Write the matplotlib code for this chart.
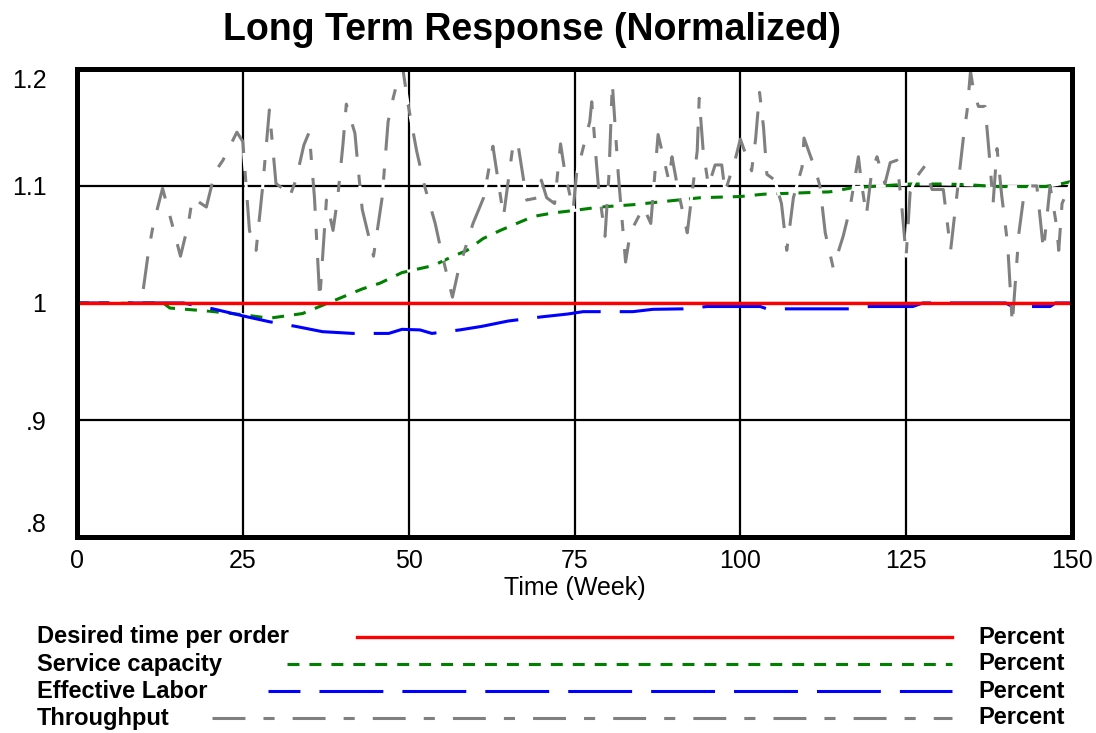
import matplotlib
matplotlib.use("Agg")
import matplotlib.pyplot as plt
from matplotlib.lines import Line2D

plt.rcParams['font.family'] = ['Liberation Sans', 'DejaVu Sans']
plt.rcParams['lines.scale_dashes'] = False

# ---- data -------------------------------------------------------------
desired_t = [0, 150]
desired_v = [1.0, 1.0]

capacity_t = [0, 13, 14, 20, 25, 29, 34, 37, 40, 43, 45.7, 49, 53.7, 56.7, 58.8,
              61.2, 63.8, 66.3, 68.8, 71.8, 74.8, 78.8, 83.8, 88.9, 94, 100,
              103.5, 108.5, 113.5, 117, 121, 125.6, 131, 134.6, 138.7, 146,
              148.7, 150]
capacity_v = [1.0, 1.0, 0.9957, 0.993, 0.990, 0.987, 0.991, 0.998, 1.005, 1.012,
              1.017, 1.026, 1.032, 1.040, 1.045, 1.055, 1.062, 1.068, 1.074,
              1.077, 1.079, 1.082, 1.084, 1.087, 1.090, 1.091, 1.093, 1.094,
              1.095, 1.0986, 1.100, 1.1017, 1.1017, 1.101, 1.0995, 1.0995,
              1.1023, 1.104]

labor_t = [0, 16, 20.5, 25, 29, 33, 37, 41.6, 47, 49, 51.7, 53.5, 57.7, 61, 65,
           69.8, 74, 76.3, 83.8, 86.8, 91.4, 95, 103, 104, 116.5, 119.5, 126,
           127.5, 140, 141, 146.7, 147.5, 150]
labor_v = [1.0, 1.0, 0.995, 0.989, 0.984, 0.980, 0.9755, 0.974, 0.974, 0.9775,
           0.977, 0.974, 0.977, 0.980, 0.9846, 0.988, 0.9906, 0.9926, 0.9926,
           0.9946, 0.995, 0.997, 0.997, 0.995, 0.995, 0.997, 0.997, 1.0, 1.0,
           0.997, 0.997, 1.0, 1.0]

throughput_t = [10.0, 10.8, 11.5, 12.9, 14.4, 15.6, 16.8, 17.4, 19.5, 20.8, 22.0,
                24.1, 25.0, 26.0, 27.0, 28.0, 29.0, 30.0, 31.0, 32.0, 33.0, 34.2,
                35.0, 35.8, 36.6, 37.6, 38.6, 39.3, 40.1, 40.6, 41.9, 42.3, 43.0,
                44.7, 46.0, 46.9, 47.7, 49.0, 49.9, 51.2, 52.4, 54.0, 55.0, 56.6,
                57.5, 59.7, 61.3, 62.7, 64.3, 65.8, 66.5, 67.8, 69.5, 70.0, 70.8,
                72.0, 72.9, 73.6, 74.8, 75.3, 77.3, 77.6, 78.3, 78.6, 79.6, 80.2,
                80.7, 81.6, 82.7, 83.4, 85.4, 86.5, 87.6, 88.6, 89.2, 89.7, 90.7,
                92.0, 93.5, 93.8, 94.4, 95.2, 96.2, 97.2, 97.7, 99.2, 100.0,
                101.7, 102.3, 102.9, 103.5, 104.0, 105.2, 106.2, 107.0, 108.0,
                109.3, 109.6, 111.3, 112.0, 112.8, 114.0, 115.5, 116.5, 117.8,
                118.2, 119.0, 119.8, 120.6, 121.8, 122.6, 123.6, 124.3, 125.0,
                125.6, 126.6, 127.8, 128.9, 130.6, 131.7, 132.7, 133.6, 134.2,
                134.7, 135.2, 135.9, 136.9, 137.6, 138.1, 138.7, 139.4, 140.3,
                141.0, 142.0, 142.7, 143.7, 144.7, 145.7, 146.7, 147.7, 148.0,
                148.5, 150.0]
throughput_v = [1.012, 1.045, 1.067, 1.098, 1.066, 1.040, 1.068, 1.090, 1.082,
                1.112, 1.122, 1.146, 1.138, 1.062, 1.045, 1.100, 1.165, 1.102,
                1.098, 1.090, 1.105, 1.135, 1.146, 1.090, 1.003, 1.088, 1.062,
                1.090, 1.136, 1.170, 1.145, 1.120, 1.080, 1.040, 1.090, 1.155,
                1.176, 1.205, 1.170, 1.130, 1.100, 1.068, 1.042, 1.005, 1.028,
                1.068, 1.090, 1.134, 1.074, 1.138, 1.135, 1.088, 1.090, 1.105,
                1.090, 1.085, 1.136, 1.110, 1.080, 1.110, 1.155, 1.172, 1.120,
                1.100, 1.057, 1.110, 1.188, 1.110, 1.035, 1.060, 1.082, 1.068,
                1.144, 1.120, 1.105, 1.125, 1.094, 1.060, 1.130, 1.175, 1.130,
                1.100, 1.118, 1.118, 1.095, 1.122, 1.140, 1.113, 1.140, 1.180,
                1.150, 1.110, 1.105, 1.085, 1.045, 1.090, 1.116, 1.141, 1.114,
                1.100, 1.060, 1.030, 1.057, 1.080, 1.125, 1.105, 1.075, 1.112,
                1.125, 1.102, 1.120, 1.122, 1.085, 1.040, 1.095, 1.108, 1.117,
                1.097, 1.097, 1.045, 1.095, 1.140, 1.165, 1.198, 1.180, 1.168,
                1.168, 1.122, 1.085, 1.132, 1.092, 1.050, 0.982, 1.060, 1.090,
                1.100, 1.100, 1.045, 1.100, 1.065, 1.045, 1.085, 1.105]

x_ticks = [0, 25, 50, 75, 100, 125, 150]
y_ticks = [0.8, 0.9, 1.0, 1.1, 1.2]
y_tick_labels = ['.8', '.9', '1', '1.1', '1.2']

legend_names = ['Desired time per order', 'Service capacity', 'Effective Labor', 'Throughput']
legend_units = ['Percent', 'Percent', 'Percent', 'Percent']

# ---- styles -----------------------------------------------------------
RED = '#ff0000'
GREEN = '#008000'
BLUE = '#0000ff'
GRAY = '#808080'
styles = [
    dict(color=RED, lw=2.4, linestyle='-'),
    dict(color=GREEN, lw=2.2, linestyle=(0, (8.6, 7.2)), gapcolor='white'),
    dict(color=BLUE, lw=2.2, linestyle=(23, (46, 13.7)), gapcolor='white'),
    dict(color=GRAY, lw=2.2, linestyle=(0, (23.7, 13, 8, 13)), gapcolor='white'),
]

W, H = 1096, 733
fig = plt.figure(figsize=(W / 100, H / 100), dpi=100)


def fx(px):
    return px / W


def fy(py):
    return 1 - py / H


ax = fig.add_axes([fx(77), fy(537), fx(1072) - fx(77), fy(69) - fy(537)])
ax.set_xlim(0, 150)
ax.set_ylim(0.8, 1.2)

ax.plot(capacity_t, capacity_v, zorder=3, **styles[1])
ax.plot(labor_t, labor_v, zorder=4, **styles[2])
ax.plot(throughput_t, throughput_v, zorder=5, **styles[3])
ax.plot(desired_t, desired_v, zorder=6, **styles[0])

# grid
for gx in x_ticks[1:-1]:
    ax.axvline(gx, color='black', lw=1.6, zorder=1)
for gy in y_ticks[1:-1]:
    ax.axhline(gy, color='black', lw=1.6, zorder=1)

for s in ax.spines.values():
    s.set_linewidth(3.6)
    s.set_color('black')
    s.set_zorder(7)

ax.set_xticks(x_ticks)
ax.set_xticklabels([str(t) for t in x_ticks], fontsize=18)
ax.set_yticks(y_ticks)
ax.set_yticklabels(y_tick_labels, fontsize=18)
ax.tick_params(axis='both', length=0)
ax.tick_params(axis='x', pad=9)
ax.tick_params(axis='y', pad=22)
ylabels = ax.get_yticklabels()
ylabels[0].set_va('bottom')
ylabels[-1].set_va('top')

ax.set_xlabel('Time (Week)', fontsize=18, labelpad=2)

fig.text(fx(532), fy(30), 'Long Term Response (Normalized)', fontsize=27,
         fontweight='bold', ha='center', va='center')

# legend rows
row_y = [637, 664, 691, 718]
line_start = [357, 287, 268, 212]
for name, unit, yy, x0, st in zip(legend_names, legend_units, row_y, line_start, styles):
    fig.text(fx(37), fy(yy), name, fontsize=17, fontweight='bold', ha='left', va='center')
    fig.text(fx(978), fy(yy), unit, fontsize=17, fontweight='bold', ha='left', va='center')
    kw = dict(st)
    ln = Line2D([fx(x0), fx(952)], [fy(yy), fy(yy)], transform=fig.transFigure,
                color=kw.pop('color'), linewidth=kw.pop('lw'),
                linestyle=kw.pop('linestyle'), **kw)
    fig.add_artist(ln)

fig.savefig('out.png', dpi=100)
